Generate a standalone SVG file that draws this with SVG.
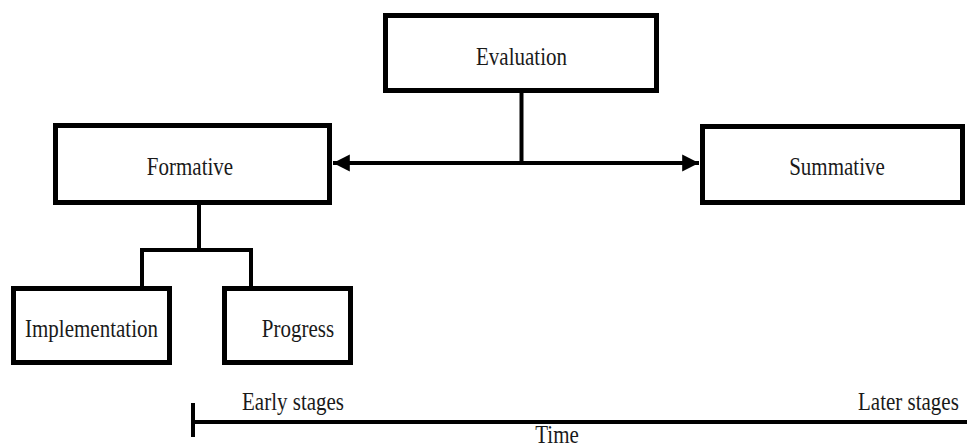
<svg xmlns="http://www.w3.org/2000/svg" width="967" height="448" viewBox="0 0 967 448">
  <style>
    .box { fill: #ffffff; stroke: #000000; stroke-width: 5; }
    .wire { fill: none; stroke: #000000; stroke-width: 4; }
    .label { font-family: 'Liberation Serif', 'Times New Roman', serif; font-size: 21px; fill: #1a1a1a; }
    .mid { text-anchor: middle; }
  </style>
  <defs>
    <marker id="head" viewBox="0 0 10 10" refX="10" refY="5" markerWidth="4.2" markerHeight="4.5" orient="auto-start-reverse" markerUnits="strokeWidth">
      <path d="M0,0 L10,5 L0,10 Z" fill="#000000"/>
    </marker>
  </defs>
  <rect width="967" height="448" fill="#ffffff"/>

  <!-- connectors -->
  <g id="connectors">
    <line class="wire" x1="521.5" y1="92" x2="521.5" y2="163"/>
    <line class="wire" x1="333" y1="163" x2="699" y2="163" marker-start="url(#head)" marker-end="url(#head)"/>
    <polyline class="wire" points="199,204 199,250"/>
    <polyline class="wire" points="142,287 142,250 251,250 251,287"/>
  </g>

  <g id="evaluation">
    <rect class="box" x="385.5" y="15.5" width="271" height="75"/>
    <text class="label mid" transform="translate(521.5 65) scale(1 1.2)">Evaluation</text>
  </g>

  <g id="formative">
    <rect class="box" x="55.5" y="125.5" width="274" height="77"/>
    <text class="label mid" transform="translate(190 175) scale(1 1.2)">Formative</text>
  </g>

  <g id="summative">
    <rect class="box" x="702.5" y="126.5" width="260" height="76"/>
    <text class="label mid" transform="translate(837 175) scale(1 1.2)">Summative</text>
  </g>

  <g id="implementation">
    <rect class="box" x="13.5" y="288.5" width="156" height="74"/>
    <text class="label mid" transform="translate(91.5 337) scale(1 1.2)">Implementation</text>
  </g>

  <g id="progress">
    <rect class="box" x="224.5" y="288.5" width="126" height="74"/>
    <text class="label mid" transform="translate(298 337) scale(1 1.2)">Progress</text>
  </g>

  <!-- time axis -->
  <g id="timeline">
    <line class="wire" x1="193" y1="403" x2="193" y2="437"/>
    <line class="wire" x1="193" y1="422" x2="967" y2="422"/>
    <text class="label" transform="translate(242 410) scale(1 1.2)">Early stages</text>
    <text class="label" transform="translate(858 410) scale(1 1.2)">Later stages</text>
    <text class="label mid" transform="translate(557 443) scale(1 1.15)">Time</text>
  </g>
</svg>
